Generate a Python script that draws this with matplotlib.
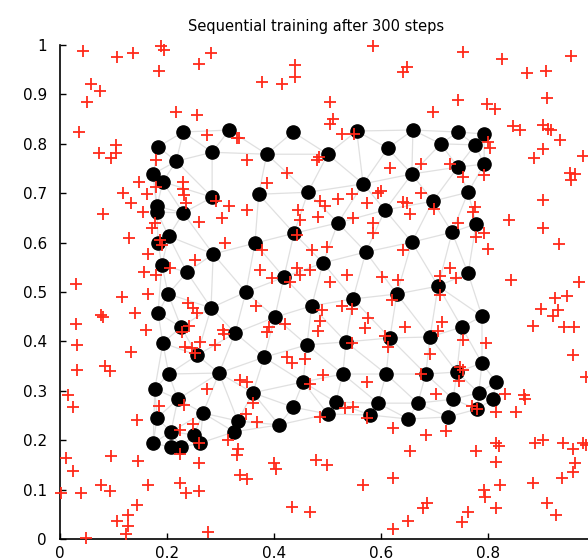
import numpy as np
import matplotlib
matplotlib.use("Agg")
import matplotlib.pyplot as plt
import matplotlib.tri as mtri

title = "Sequential training after 300 steps"

# SOM node positions (10x10 map, 100 nodes)
node_x = [0.231, 0.317, 0.184, 0.218, 0.285, 0.175, 0.193, 0.285,
          0.436, 0.555, 0.660, 0.387, 0.501, 0.613, 0.658, 0.567, 0.464, 0.372,
          0.744, 0.793, 0.712, 0.776, 0.744, 0.793, 0.763, 0.697,
          0.182, 0.182, 0.231, 0.204, 0.184, 0.287, 0.191, 0.238, 0.203, 0.283,
          0.184, 0.227, 0.193, 0.257, 0.204, 0.298,
          0.608, 0.520, 0.438, 0.365, 0.572, 0.658, 0.492, 0.419, 0.348, 0.548,
          0.630, 0.471, 0.402, 0.328, 0.535, 0.617, 0.462, 0.382, 0.529, 0.610,
          0.778, 0.733, 0.763, 0.707, 0.789, 0.751, 0.692, 0.789, 0.684, 0.742,
          0.178, 0.221, 0.268, 0.182, 0.208, 0.251, 0.262, 0.175, 0.208, 0.227,
          0.455, 0.361, 0.333, 0.326, 0.436, 0.410, 0.516, 0.501, 0.595, 0.580,
          0.669, 0.651,
          0.815, 0.783, 0.809, 0.735, 0.780, 0.725]
node_y = [0.824, 0.828, 0.794, 0.765, 0.783, 0.739, 0.723, 0.692,
          0.824, 0.826, 0.828, 0.779, 0.779, 0.791, 0.739, 0.719, 0.702, 0.698,
          0.824, 0.820, 0.800, 0.798, 0.753, 0.759, 0.702, 0.684,
          0.674, 0.662, 0.660, 0.613, 0.599, 0.577, 0.555, 0.540, 0.496, 0.468,
          0.457, 0.429, 0.397, 0.372, 0.334, 0.336,
          0.666, 0.640, 0.619, 0.599, 0.581, 0.601, 0.559, 0.530, 0.500, 0.486,
          0.496, 0.472, 0.449, 0.417, 0.399, 0.407, 0.393, 0.368, 0.334, 0.334,
          0.638, 0.621, 0.538, 0.512, 0.451, 0.429, 0.409, 0.356, 0.334, 0.338,
          0.304, 0.283, 0.255, 0.245, 0.217, 0.211, 0.194, 0.194, 0.186, 0.186,
          0.318, 0.296, 0.239, 0.217, 0.267, 0.231, 0.277, 0.253, 0.275, 0.251,
          0.275, 0.243,
          0.318, 0.296, 0.283, 0.283, 0.263, 0.247]

# training data points
data_pts = [
    (.043, .988), (.108, .976), (.138, .984), (.190, .998), (.196, .990), (.282, .983),
    (.260, .962), (.185, .948), (.058, .921), (.076, .907), (.052, .885), (.037, .824),
    (.218, .864), (.257, .858), (.275, .818), (.331, .812), (.074, .782), (.105, .798),
    (.105, .782), (.096, .771), (.181, .767), (.148, .723), (.119, .700), (.164, .698),
    (.181, .713), (.230, .723), (.230, .708), (.232, .696), (.237, .680), (.133, .680),
    (.293, .685), (.317, .674),
    (.585, .999), (.648, .955), (.642, .946), (.440, .960), (.440, .936), (.416, .921),
    (.379, .925), (.505, .885), (.511, .850), (.505, .840), (.527, .819), (.550, .820),
    (.336, .811), (.350, .767), (.485, .774), (.480, .768), (.424, .741), (.387, .721),
    (.617, .752), (.676, .759), (.546, .698), (.595, .700), (.600, .705), (.676, .701),
    (.520, .688), (.486, .685), (.495, .674), (.642, .683), (.648, .680),
    (.754, .985), (.826, .971), (.873, .944), (.908, .948), (.956, .978), (.911, .892),
    (.745, .889), (.697, .865), (.799, .881), (.813, .870), (.847, .836), (.860, .828),
    (.902, .838), (.912, .831), (.918, .828), (.934, .808), (.801, .804), (.804, .791),
    (.902, .789), (.886, .772), (.978, .775), (.729, .759), (.754, .733), (.793, .737),
    (.954, .741), (.962, .739), (.956, .727), (.903, .686),
    (.082, .658), (.155, .662), (.178, .640), (.172, .629), (.130, .609), (.188, .605),
    (.191, .595), (.166, .578), (.158, .541), (.181, .534), (.206, .548), (.253, .565),
    (.261, .642), (.303, .649), (.309, .600), (.031, .516), (.116, .489), (.166, .496),
    (.141, .457), (.077, .453), (.082, .449), (.031, .435), (.162, .424), (.240, .477),
    (.250, .467), (.256, .457), (.242, .431), (.228, .420), (.234, .389), (.247, .386),
    (.262, .399), (.253, .376), (.290, .393), (.305, .423), (.307, .416), (.033, .393),
    (.133, .379), (.033, .342), (.085, .350), (.094, .341),
    (.350, .667), (.446, .666), (.449, .646), (.483, .652), (.549, .649), (.574, .681),
    (.585, .640), (.585, .620), (.654, .659), (.443, .615), (.471, .585), (.499, .592),
    (.642, .585), (.379, .585), (.374, .545), (.396, .528), (.430, .521), (.443, .548),
    (.449, .534), (.468, .545), (.505, .521), (.536, .534), (.602, .530), (.633, .524),
    (.367, .472), (.491, .464), (.527, .472), (.547, .465), (.486, .442), (.483, .422),
    (.421, .435), (.392, .430), (.388, .420), (.577, .447), (.570, .427), (.620, .484),
    (.645, .430), (.608, .410), (.614, .389), (.547, .396), (.424, .369), (.434, .356),
    (.458, .364), (.492, .332), (.676, .335),
    (.699, .669), (.776, .673), (.773, .663), (.745, .639), (.840, .646), (.903, .629),
    (.793, .619), (.778, .611), (.801, .588), (.933, .597), (.729, .548), (.710, .532),
    (.740, .528), (.844, .524), (.970, .521), (.710, .494), (.925, .487), (.948, .492),
    (.900, .465), (.931, .464), (.922, .451), (.885, .431), (.942, .429), (.961, .429),
    (.714, .440), (.707, .422), (.754, .403), (.796, .396), (.692, .374), (.959, .372),
    (.748, .349), (.753, .342),
    (.015, .292), (.026, .267), (.186, .269), (.232, .271), (.275, .303), (.145, .241),
    (.225, .221), (.249, .233), (.261, .194), (.225, .173), (.315, .200), (.012, .165),
    (.026, .138), (.096, .168), (.147, .158), (.261, .153), (.002, .094), (.041, .094),
    (.077, .109), (.094, .098), (.166, .109), (.225, .114), (.237, .093), (.261, .098),
    (.144, .069), (.108, .037), (.127, .049), (.127, .026), (.124, .010), (.049, .003),
    (.278, .015),
    (.337, .322), (.350, .318), (.468, .314), (.574, .318), (.362, .275), (.348, .254),
    (.368, .237), (.533, .265), (.549, .267), (.486, .246), (.574, .244), (.622, .224),
    (.334, .182), (.331, .170), (.400, .153), (.405, .141), (.479, .160), (.499, .150),
    (.337, .130), (.350, .121), (.654, .179), (.623, .123), (.566, .109), (.434, .065),
    (.468, .055), (.651, .037), (.622, .020), (.679, .062), (.686, .073),
    (.746, .320), (.704, .294), (.771, .269), (.780, .263), (.832, .294), (.867, .292),
    (.869, .283), (.815, .258), (.852, .258), (.684, .211), (.722, .219), (.778, .179),
    (.815, .195), (.821, .188), (.815, .156), (.888, .194), (.903, .200), (.941, .194),
    (.959, .182), (.978, .195), (.984, .190), (.962, .153), (.959, .136), (.938, .123),
    (.885, .113), (.822, .109), (.793, .099), (.795, .086), (.911, .073), (.927, .049),
    (.815, .062), (.763, .055), (.751, .035), (.984, .329),
]
data_x = [p[0] for p in data_pts]
data_y = [p[1] for p in data_pts]

# the tick at 1 on x falls outside the cropped picture
x_ticks = [0, 0.2, 0.4, 0.6, 0.8]
x_labels = ["0", "0.2", "0.4", "0.6", "0.8"]
y_ticks = [0, 0.1, 0.2, 0.3, 0.4, 0.5, 0.6, 0.7, 0.8, 0.9, 1.0]
y_labels = ["0", "0.1", "0.2", "0.3", "0.4", "0.5", "0.6", "0.7", "0.8", "0.9", "1"]

fig = plt.figure(figsize=(5.88, 5.60), dpi=100)
# the axes run past the right edge of the picture, like the original crop
ax = fig.add_axes([0.1012, 0.0375, 0.9107, 0.882])

# neighbourhood mesh between the nodes
nx = np.array(node_x)
ny = np.array(node_y)
tri = mtri.Triangulation(nx, ny)
t = tri.triangles
edge_len = np.max([np.hypot(nx[t[:, i]] - nx[t[:, (i + 1) % 3]],
                            ny[t[:, i]] - ny[t[:, (i + 1) % 3]]) for i in range(3)], axis=0)
tri.set_mask(edge_len > 0.115)
ax.triplot(tri, color="#e0e0e0", lw=0.9, zorder=1)

ax.plot(node_x, node_y, "o", color="black", ms=9.5, zorder=2)
ax.plot(data_x, data_y, "+", color="#ff2a1a", ms=9, mew=1.3, zorder=3, clip_on=False)

ax.set_xlim(0, 1)
ax.set_ylim(0, 1)
ax.set_xticks(x_ticks)
ax.set_xticklabels(x_labels)
ax.set_yticks(y_ticks)
ax.set_yticklabels(y_labels)
ax.tick_params(direction="in", length=4, width=1, labelsize=11, colors="black")
ax.tick_params(axis="y", pad=9)
ax.tick_params(axis="x", pad=5)
ax.spines["top"].set_visible(False)
ax.spines["right"].set_visible(False)
ax.spines["left"].set_linewidth(1.2)
ax.spines["bottom"].set_linewidth(1.2)

ax.set_title(title, fontsize=10.5, x=0.479, pad=10)

fig.savefig("out.png", dpi=100)
